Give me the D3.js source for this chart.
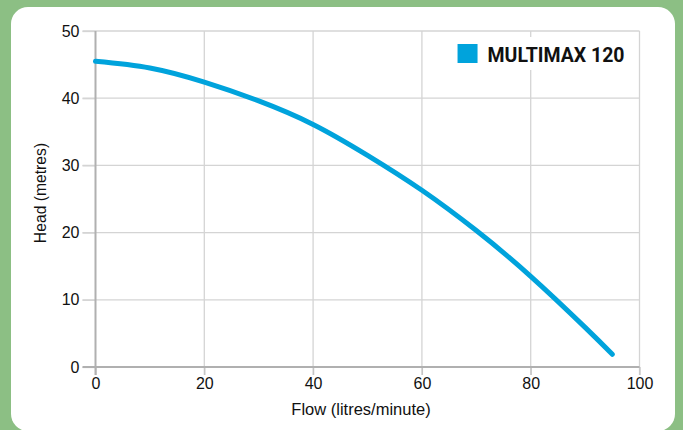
<!DOCTYPE html>
<html>
<head>
<meta charset="utf-8">
<script src="https://cdn.jsdelivr.net/npm/d3@7"></script>
<style>
  html, body { margin: 0; padding: 0; background: #8cbf84; }
  svg { display: block; }
  .tick text { font-family: "Liberation Sans", Arial, sans-serif; font-size: 16px; fill: #111; }
  .axislabel { font-family: "Liberation Sans", Arial, sans-serif; fill: #111; }
</style>
</head>
<body>
<div id="chart-area"></div>
<script>
const flow = [0, 10, 20, 30, 40, 50, 60, 70, 80, 90, 95];
const head = [45.5, 44.5, 42.4, 39.6, 36.1, 31.5, 26.3, 20.3, 13.5, 5.9, 1.9];
const xTicks = [0, 20, 40, 60, 80, 100];
const yTicks = [0, 10, 20, 30, 40, 50];
const seriesName = "MULTIMAX 120";

const chart = { width: 683, height: 430 };
const margin = { top: 31, right: 43.5, left: 95.5, bottom: 63 };
const width = chart.width - margin.left - margin.right;
const height = chart.height - margin.top - margin.bottom;

const svg = d3.select("#chart-area")
  .append("svg")
  .attr("width", chart.width)
  .attr("height", chart.height);

// white rounded panel on the green background
svg.append("rect")
  .attr("x", 11).attr("y", 7)
  .attr("width", 664).attr("height", 424)
  .attr("rx", 17)
  .attr("fill", "#fff");

const g = svg.append("g")
  .attr("transform", `translate(${margin.left}, ${margin.top})`);

const x = d3.scaleLinear().domain([0, 100]).range([0, width]);
const y = d3.scaleLinear().domain([0, 50]).range([height, 0]);

// grid lines
g.append("g")
  .selectAll("line")
  .data(yTicks.filter(d => d > 0))
  .join("line")
  .attr("x1", -13).attr("x2", width)
  .attr("y1", d => y(d)).attr("y2", d => y(d))
  .attr("stroke", "#d4d4d4").attr("stroke-width", 1.3);

g.append("g")
  .selectAll("line")
  .data(xTicks.filter(d => d > 0))
  .join("line")
  .attr("x1", d => x(d)).attr("x2", d => x(d))
  .attr("y1", 0).attr("y2", height + 8)
  .attr("stroke", "#d4d4d4").attr("stroke-width", 1.3);

// axes
const yAxis = d3.axisLeft(y).tickValues(yTicks).tickSize(13).tickPadding(3);
const xAxis = d3.axisBottom(x).tickValues(xTicks).tickSize(8).tickPadding(3);

const yg = g.append("g").call(yAxis);
yg.select(".domain").remove();
yg.selectAll(".tick line").attr("stroke", "#d4d4d4").attr("stroke-width", 1.3);

const xg = g.append("g").attr("transform", `translate(0, ${height})`).call(xAxis);
xg.select(".domain").remove();
xg.selectAll(".tick line").attr("stroke", "#c4c4c4").attr("stroke-width", 1.3);

// main axis lines
g.append("line")
  .attr("x1", -13).attr("x2", width)
  .attr("y1", height).attr("y2", height)
  .attr("stroke", "#b0b0b0").attr("stroke-width", 2);
g.append("line")
  .attr("x1", 0).attr("x2", 0)
  .attr("y1", 0).attr("y2", height + 8)
  .attr("stroke", "#b0b0b0").attr("stroke-width", 2);

// axis labels
g.append("text")
  .attr("class", "axislabel")
  .attr("font-size", 16.5)
  .attr("x", 265.5).attr("y", height + 48)
  .attr("text-anchor", "middle")
  .text("Flow (litres/minute)");

g.append("text")
  .attr("class", "axislabel")
  .attr("font-size", 15.7)
  .attr("transform", "rotate(-90)")
  .attr("x", -162).attr("y", -49.5)
  .attr("text-anchor", "middle")
  .text("Head (metres)");

// legend (white box hides the grid behind it)
const legend = g.append("g").attr("transform", `translate(${x(66)}, 6)`);
legend.append("rect")
  .attr("x", 0).attr("y", 0)
  .attr("width", x(100) - x(66) - 4).attr("height", 33)
  .attr("fill", "#fff");
legend.append("rect")
  .attr("x", 3).attr("y", 7)
  .attr("width", 20).attr("height", 19)
  .attr("fill", "#00a3dc");
legend.append("text")
  .attr("x", 33).attr("y", 25)
  .attr("font-family", "Roboto, 'DejaVu Sans Condensed', sans-serif")
  .attr("font-weight", "bold")
  .attr("font-size", 20)
  .attr("textLength", 137)
  .attr("lengthAdjust", "spacingAndGlyphs")
  .attr("fill", "#111")
  .text(seriesName);

// curve
const line = d3.line()
  .x((d, i) => x(flow[i]))
  .y(d => y(d))
  .curve(d3.curveNatural);

g.append("path")
  .datum(head)
  .attr("d", line)
  .attr("fill", "none")
  .attr("stroke", "#00a3dc")
  .attr("stroke-width", 5)
  .attr("stroke-linecap", "round");
</script>
</body>
</html>
